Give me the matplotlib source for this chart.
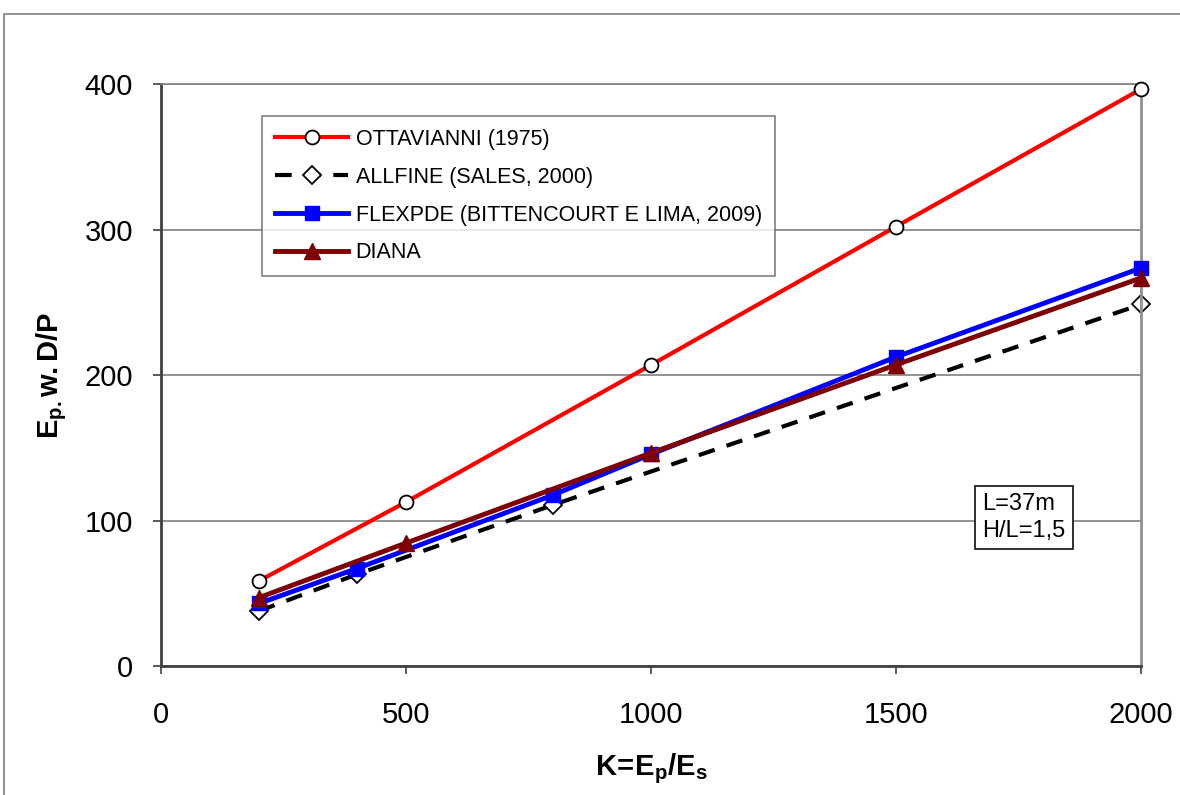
import matplotlib.pyplot as plt
from matplotlib.patches import Rectangle

plt.rcParams['font.family'] = ['Liberation Sans', 'DejaVu Sans']
plt.rcParams['mathtext.fontset'] = 'custom'
plt.rcParams['mathtext.rm'] = 'Liberation Sans'
plt.rcParams['mathtext.bf'] = 'Liberation Sans:bold'
plt.rcParams['mathtext.it'] = 'Liberation Sans:italic'

# dados
k_ott = [200, 500, 1000, 1500, 2000]
y_ott = [58.5, 112.7, 206.9, 302.0, 396.5]

k_all = [200, 400, 800, 2000]
y_all = [37.8, 63.0, 110.7, 248.5]

k_flex = [200, 400, 800, 1000, 1500, 2000]
y_flex = [43.0, 67.0, 117.5, 145.5, 212.4, 273.5]

k_diana = [200, 500, 1000, 1500, 2000]
y_diana = [47.0, 84.5, 146.4, 207.0, 266.7]

fig = plt.figure(figsize=(11.8, 7.95), dpi=100)
ax = fig.add_axes([161 / 1180, 1 - 666 / 795, 980 / 1180, 582 / 795])

# moldura externa
fig.patches.append(Rectangle((4 / 1180, -0.1), 1.2, 1.1 - 14 / 795,
                             transform=fig.transFigure, fill=False,
                             edgecolor='#808080', linewidth=1.2))

ax.plot(k_ott, y_ott, color='#ff0000', lw=3, marker='o', ms=10,
        mfc='white', mec='black', mew=1.3, label='OTTAVIANNI (1975)',
        zorder=3, clip_on=False)
ax.plot(k_all, y_all, color='black', lw=3, ls=(0, (4, 3)), marker='D', ms=9,
        mfc='white', mec='black', mew=1.3, label='ALLFINE (SALES, 2000)',
        zorder=2, clip_on=False)
ax.plot(k_flex, y_flex, color='#0000ff', lw=3.5, marker='s', ms=10,
        mfc='#0000ff', mec='#0000ff', label='FLEXPDE (BITTENCOURT E LIMA, 2009)',
        zorder=4, clip_on=False)
ax.plot(k_diana, y_diana, color='#7f0000', lw=3.5, marker='^', ms=12,
        mfc='#7f0000', mec='#7f0000', label='DIANA', zorder=5, clip_on=False)

ax.set_xlim(0, 2000)
ax.set_ylim(0, 400)
ax.set_xticks([0, 500, 1000, 1500, 2000])
ax.set_yticks([0, 100, 200, 300, 400])
ax.yaxis.grid(True, color='#808080', lw=1.2)
ax.set_axisbelow(True)
ax.tick_params(labelsize=21, length=6, width=1.2, color='#404040')
ax.tick_params(axis='x', pad=19)
ax.tick_params(axis='y', pad=14)
for s in ['left', 'bottom']:
    ax.spines[s].set_color('#404040')
    ax.spines[s].set_linewidth(2)
ax.spines['right'].set_color('#909090')
ax.spines['right'].set_linewidth(2)
ax.spines['top'].set_color('#808080')
ax.spines['top'].set_linewidth(1.2)

ax.set_xlabel(r'$\mathbf{K\!=\!E_p/E_s}$', fontsize=21, labelpad=16)
ax.set_ylabel(r'$\mathbf{E_{p.}w.D/P}$', fontsize=21, labelpad=11)

leg = ax.legend(loc='upper left', bbox_to_anchor=(101 / 980, 1 - 32 / 582),
                fontsize=15.5, frameon=True, fancybox=False, edgecolor='#606060',
                handlelength=3.4, borderpad=0.6, labelspacing=0.78,
                handletextpad=0.35, borderaxespad=0)
leg.get_frame().set_linewidth(1.2)

ax.text(0.838, 0.255, 'L=37m\nH/L=1,5', transform=ax.transAxes, fontsize=17,
        va='center', ha='left', linespacing=1.3,
        bbox=dict(boxstyle='square,pad=0.3', fc='white', ec='#202020', lw=1.3))

fig.savefig('out.png', dpi=100)
